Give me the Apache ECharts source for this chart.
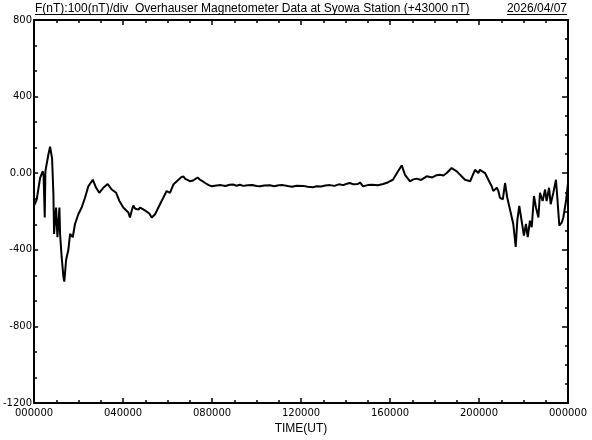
<!DOCTYPE html>
<html><head><meta charset="utf-8">
<script src="https://cdn.jsdelivr.net/npm/echarts@6/dist/echarts.min.js"></script>
<style>html,body{margin:0;padding:0;background:#fff}#c{width:592px;height:440px}</style>
</head><body><div id="c"></div>
<script>
const titleText = 'F(nT):100(nT)/div  Overhauser Magnetometer Data at Syowa Station (+43000 nT)';
const dateText = '2026/04/07';
const xAxisTitle = 'TIME(UT)';
const yTicks = [-1200, -800, -400, 0, 400, 800];
const xTicksHours = [0, 4, 8, 12, 16, 20, 24];
const hours = [0,0.12,0.27,0.39,0.43,0.48,0.51,0.57,0.64,0.72,0.81,0.87,0.90,0.99,1.05,1.14,1.17,1.24,1.32,1.36,1.44,1.54,1.62,1.74,1.84,1.99,2.14,2.29,2.44,2.64,2.79,2.93,3.11,3.31,3.49,3.69,3.83,4.01,4.24,4.31,4.38,4.46,4.55,4.62,4.70,4.76,4.85,4.92,5.0,5.07,5.18,5.29,5.44,5.66,5.96,6.11,6.26,6.49,6.6,6.71,6.8,6.9,7.01,7.15,7.25,7.35,7.46,7.55,7.69,7.85,7.99,8.2,8.4,8.6,8.8,8.94,9.1,9.25,9.4,9.6,9.8,10.0,10.16,10.35,10.6,10.8,11.0,11.19,11.4,11.6,11.8,12.1,12.3,12.54,12.7,12.9,13.1,13.30,13.5,13.7,13.9,14.05,14.20,14.35,14.56,14.65,14.79,15.0,15.2,15.45,15.69,15.9,16.13,16.36,16.53,16.67,16.90,17.05,17.20,17.4,17.65,17.9,18.1,18.25,18.4,18.55,18.77,19.0,19.37,19.60,19.82,19.97,20.04,20.27,20.42,20.57,20.64,20.80,20.87,20.94,21.07,21.17,21.27,21.39,21.54,21.65,21.72,21.81,21.87,21.96,22.02,22.11,22.19,22.29,22.37,22.47,22.56,22.67,22.74,22.86,22.97,23.04,23.15,23.22,23.34,23.46,23.52,23.61,23.72,23.79,23.91,24.0];
const values = [-169,-137,-25,11,-14,-231,11,18,95,139,78,-111,-317,-179,-334,-179,-317,-437,-541,-566,-453,-401,-317,-334,-265,-214,-179,-128,-68,-34,-76,-102,-76,-56,-85,-102,-143,-179,-205,-231,-200,-169,-185,-175,-190,-179,-185,-178,-195,-188,-210,-231,-214,-162,-93,-102,-59,-34,-22,-16,-30,-35,-42,-38,-30,-22,-34,-40,-51,-62,-68,-64,-62,-67,-60,-59,-65,-60,-66,-63,-61,-67,-68,-64,-63,-68,-63,-62,-67,-70,-65,-66,-71,-73,-68,-69,-64,-62,-66,-58,-62,-55,-51,-58,-56,-48,-68,-62,-60,-63,-56,-48,-34,10,41,-8,-42,-32,-28,-35,-16,-22,-10,-8,-12,1,27,10,-34,-42,18,1,18,1,-34,-68,-93,-76,-93,-128,-137,-51,-128,-188,-265,-385,-248,-171,-214,-282,-325,-265,-334,-248,-282,-119,-179,-231,-102,-145,-85,-145,-76,-162,-102,-34,-128,-274,-257,-231,-145,-51];

const FONT_T = '12px "Liberation Sans", Arial, sans-serif';
const cv = document.createElement('canvas').getContext('2d');
cv.font = FONT_T;
const tw = cv.measureText(titleText).width;
const dw = cv.measureText(dateText).width;

const chart = echarts.init(document.getElementById('c'), null, {renderer: 'canvas'});
const axisLineStyle = {color: '#000', width: 2};
const tickFont = {color: '#000', fontSize: 10, fontFamily: 'DejaVu Sans'};
const xFmt = v => (v % 24 === 0 ? '00' : String(v).padStart(2, '0')) + '0000';
const yFmt = v => (v === 0 ? '0.00' : String(v));
chart.setOption({
  animation: false,
  backgroundColor: '#fff',
  grid: {left: 34, right: 24, top: 20, bottom: 32},
  graphic: [
    {type: 'text', x: 35, y: 15, style: {text: titleText, font: FONT_T, fill: '#000', verticalAlign: 'bottom'}},
    {type: 'line', shape: {x1: 35, y1: 14.5, x2: 35 + tw, y2: 14.5}, style: {stroke: '#000', lineWidth: 1}},
    {type: 'text', x: 567, y: 15, style: {text: dateText, font: FONT_T, fill: '#000', align: 'right', verticalAlign: 'bottom'}},
    {type: 'line', shape: {x1: 567 - dw, y1: 14.5, x2: 567, y2: 14.5}, style: {stroke: '#000', lineWidth: 1}}
  ],
  xAxis: [
    {type: 'value', position: 'bottom', min: 0, max: 24, interval: 4,
     name: xAxisTitle, nameLocation: 'middle', nameGap: 18,
     nameTextStyle: {color: '#000', fontSize: 12, fontFamily: 'Liberation Sans'},
     axisLine: {show: true, onZero: false, lineStyle: axisLineStyle},
     axisTick: {show: true, inside: true, length: 5, lineStyle: {color: '#000', width: 1.5}},
     minorTick: {show: true, splitNumber: 4, length: 3, lineStyle: {color: '#000', width: 1.5}},
     axisLabel: {show: true, formatter: xFmt, margin: 5, ...tickFont},
     splitLine: {show: false}},
    {type: 'value', position: 'top', min: 0, max: 24, interval: 4,
     axisLine: {show: true, onZero: false, lineStyle: axisLineStyle},
     axisTick: {show: true, inside: true, length: 5, lineStyle: {color: '#000', width: 1.5}},
     minorTick: {show: true, splitNumber: 4, length: 3, lineStyle: {color: '#000', width: 1.5}},
     axisLabel: {show: false}, splitLine: {show: false}}
  ],
  yAxis: [
    {type: 'value', position: 'left', min: -1200, max: 800, interval: 400,
     axisLine: {show: true, onZero: false, lineStyle: axisLineStyle},
     axisTick: {show: true, inside: true, length: 4, lineStyle: {color: '#000', width: 1.5}},
     minorTick: {show: true, splitNumber: 3, length: 3, lineStyle: {color: '#000', width: 1.5}},
     axisLabel: {show: true, formatter: yFmt, margin: 2, ...tickFont},
     splitLine: {show: false}},
    {type: 'value', position: 'right', min: -1200, max: 800, interval: 400,
     axisLine: {show: true, onZero: false, lineStyle: axisLineStyle},
     axisTick: {show: true, inside: true, length: 6, lineStyle: {color: '#000', width: 1.5}},
     minorTick: {show: true, splitNumber: 4, length: 3, lineStyle: {color: '#000', width: 1.5}},
     axisLabel: {show: false}, splitLine: {show: false}}
  ],
  series: [{
    type: 'line', xAxisIndex: 0, yAxisIndex: 0, showSymbol: false, symbol: 'none',
    lineStyle: {color: '#000', width: 2}, silent: true,
    data: hours.map((h, i) => [h, values[i]])
  }]
});
</script></body></html>
